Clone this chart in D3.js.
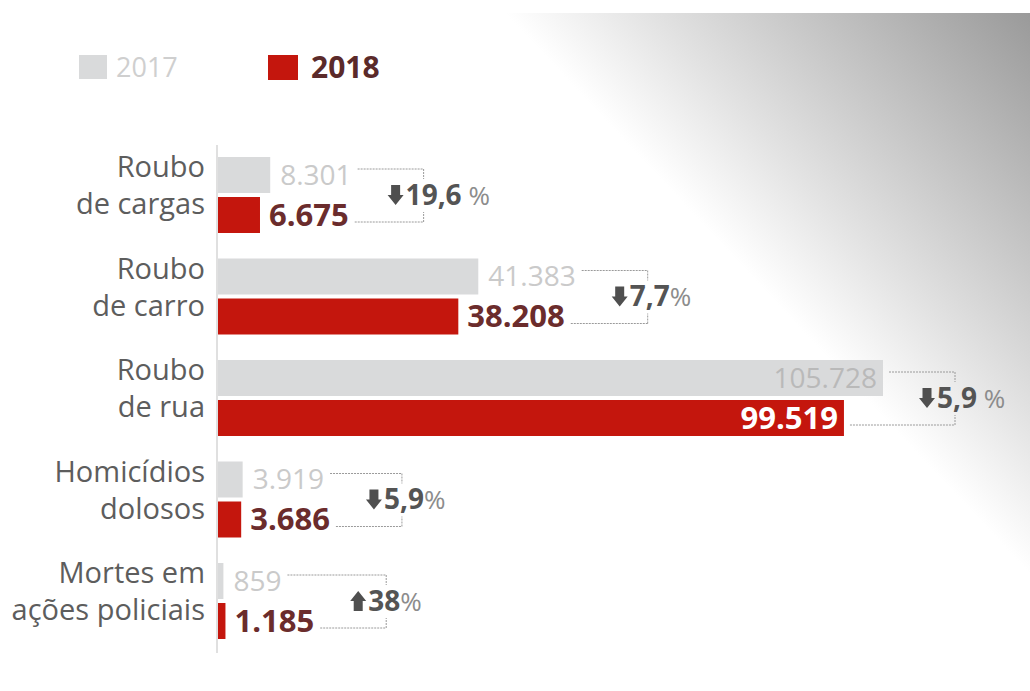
<!DOCTYPE html>
<html>
<head>
<meta charset="utf-8">
<script src="https://cdn.jsdelivr.net/npm/d3@7"></script>
<style>
  html, body { margin: 0; padding: 0; background: #fff; }
  svg { display: block; font-family: "Open Sans", "Noto Sans", sans-serif; }
</style>
</head>
<body>
<svg id="chart" width="1030" height="691"></svg>
<script>
// Ocorrências registradas, 2017 x 2018
const categories = [
  ["Roubo", "de cargas"],
  ["Roubo", "de carro"],
  ["Roubo", "de rua"],
  ["Homicídios", "dolosos"],
  ["Mortes em", "ações policiais"]
];
const years = ["2017", "2018"];
const values2017 = [8301, 41383, 105728, 3919, 859];
const values2018 = [6675, 38208, 99519, 3686, 1185];
const changeText = ["19,6", "7,7", "5,9", "5,9", "38"];
const changeUnit = [" %", "%", " %", "%", "%"];
const changeDir = ["down", "down", "down", "down", "up"];

const W = 1030, H = 691;
const colors = { "2017": "#d9dadb", "2018": "#c4160d" };

const svg = d3.select("#chart");
const fmt = d3.formatLocale({ decimal: ",", thousands: ".", grouping: [3], currency: ["R$", ""] }).format(",d");

// background: white with a grey sheen from the top-right corner
const defs = svg.append("defs");
const bg = defs.append("linearGradient")
  .attr("id", "bg").attr("gradientUnits", "userSpaceOnUse")
  .attr("x1", 1030).attr("y1", 13).attr("x2", 750).attr("y2", 275);
[[0, "#9a9a9a"], [0.42, "#c4c4c4"], [0.72, "#e2e2e2"], [1, "#ffffff"]]
  .forEach(([o, c]) => bg.append("stop").attr("offset", o).attr("stop-color", c));
svg.append("rect").attr("width", W).attr("height", H).attr("fill", "#fff");
svg.append("rect").attr("y", 13).attr("width", W).attr("height", H - 13).attr("fill", "url(#bg)");

// scales
const x = d3.scaleLinear().domain([0, d3.max(values2017)]).range([218, 883]);
const y = d3.scaleBand().domain(d3.range(categories.length)).range([157, 157 + 101.5 * categories.length]).padding(0);
const ySub = d3.scaleBand().domain(years).range([0, 76]).paddingInner(0.1);
const bh = ySub.bandwidth();

// legend
const legend = svg.append("g");
legend.append("rect").attr("x", 79).attr("y", 55).attr("width", 28).attr("height", 24).attr("fill", colors["2017"]);
legend.append("text").attr("x", 116).attr("y", 77).attr("font-size", 27).attr("fill", "#cfcfcf").text(years[0]);
legend.append("rect").attr("x", 268).attr("y", 55).attr("width", 30).attr("height", 25).attr("fill", colors["2018"]);
legend.append("text").attr("x", 311).attr("y", 78).attr("font-size", 30).attr("font-weight", 700).attr("fill", "#5b2a2a").text(years[1]);

// baseline
svg.append("line")
  .attr("x1", 217).attr("x2", 217).attr("y1", 145).attr("y2", 653)
  .attr("stroke", "#e0e0e0").attr("stroke-width", 2);

// category labels
const cat = svg.append("g").selectAll("text").data(categories).join("text")
  .attr("text-anchor", "end").attr("font-size", 29).attr("fill", "#5d5d5d");
cat.each(function (d, i) {
  const t = d3.select(this);
  t.append("tspan").attr("x", 205).attr("y", y(i) + 20).text(d[0]);
  t.append("tspan").attr("x", 205).attr("y", y(i) + 57).text(d[1]);
});

const series = [values2017, values2018];
const insideLimit = 0.8 * x.domain()[1];

categories.forEach((c, i) => {
  const g = svg.append("g");
  const ends = [];
  years.forEach((yr, k) => {
    const v = series[k][i];
    const top = y(i) + ySub(yr);
    const cy = top + bh / 2;
    g.append("rect")
      .attr("x", x(0)).attr("y", top)
      .attr("width", x(v) - x(0)).attr("height", bh)
      .attr("fill", colors[yr]);

    const inside = v > insideLimit;
    const lbl = g.append("text")
      .attr("y", cy).attr("dy", "0.35em")
      .attr("font-size", k === 0 ? 28 : 31)
      .attr("font-weight", k === 0 ? 400 : 700)
      .text(fmt(v));
    if (inside) {
      lbl.attr("x", x(v) - 6).attr("text-anchor", "end")
        .attr("fill", k === 0 ? "#b9b9b9" : "#ffffff");
      ends.push({ x: x(v), cy });
    } else {
      const lx = x(v) + (k === 0 ? 10 : 9);
      lbl.attr("x", lx).attr("fill", k === 0 ? "#cacaca" : "#6b2c2c");
      ends.push({ x: lx + lbl.node().getComputedTextLength(), cy });
    }
  });

  // bracket linking the two years
  const bx = d3.max(ends, e => e.x) + 72;
  const yTop = ends[0].cy - 6, yBot = ends[1].cy + 7;
  const line = (x1, y1, x2, y2) => g.append("line")
    .attr("x1", x1).attr("y1", y1).attr("x2", x2).attr("y2", y2)
    .attr("stroke", "#9a9a9a").attr("stroke-width", 1).attr("stroke-dasharray", "2,1");
  line(ends[0].x + 6, yTop, bx, yTop);
  line(bx, yTop, bx, yTop + 10);
  line(ends[1].x + 6, yBot, bx, yBot);
  line(bx, yBot, bx, yBot - 10);

  // variation label
  const midY = (ends[0].cy + ends[1].cy) / 2;
  const pg = g.append("g").attr("transform", `translate(${bx - 36},${midY})`);
  const arrowDown = "M3.5,-10 H12.5 V0 H16 L8,10 L0,0 H3.5 Z";
  const arrowUp = "M3.5,10 H12.5 V0 H16 L8,-10 L0,0 H3.5 Z";
  pg.append("path").attr("d", changeDir[i] === "down" ? arrowDown : arrowUp).attr("fill", "#4f4f4f");
  const pt = pg.append("text").attr("x", 18).attr("dy", "0.35em").attr("font-size", 28);
  pt.append("tspan").attr("font-weight", 700).attr("fill", "#545454").text(changeText[i]);
  pt.append("tspan").attr("fill", "#8c8c8c").attr("font-size", 26).text(changeUnit[i]);
});
</script>
</body>
</html>
